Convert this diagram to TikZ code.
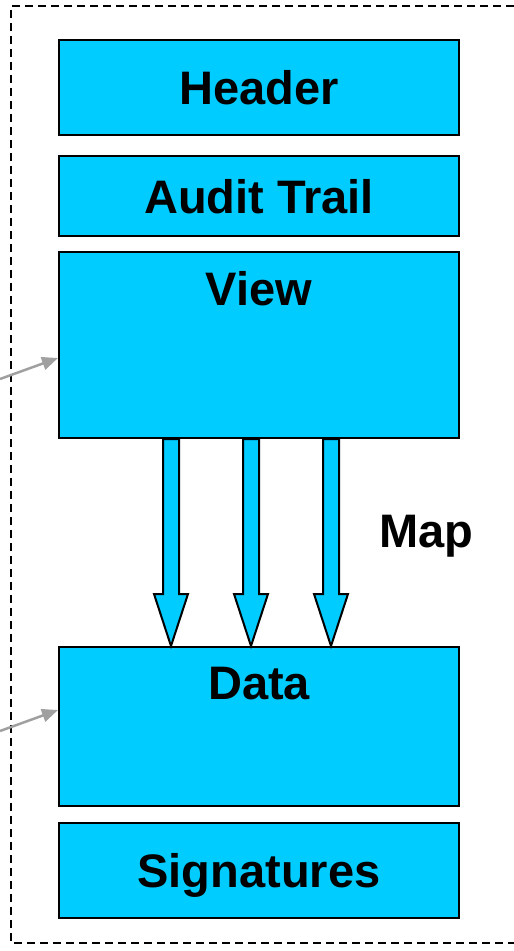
\documentclass[tikz,border=0pt]{standalone}
\usepackage{fontspec}
\setmainfont{Liberation Sans}
\usetikzlibrary{%
	calc,%
	arrows.meta
}
\definecolor{sky-blue}{RGB}{0,204,255}
\definecolor{feed-gray}{RGB}{160,160,160}

\begin{document}
\begin{tikzpicture}[x=1pt,y=-1pt,
	block/.style={draw=black,line width=2pt,fill=sky-blue,minimum width=400pt,
		inner sep=0pt,text depth=0pt,font=\bfseries\fontsize{47}{50}\selectfont},
	toptext/.style={anchor=center,yshift=-38pt,inner sep=0pt,
		font=\bfseries\fontsize{47}{50}\selectfont},
	maparrow/.style={draw=black,line width=2pt,fill=sky-blue,line join=miter},
	feed/.style={feed-gray,line width=2.5pt,-{Triangle[length=16pt,width=13pt]}}
	]
		\useasboundingbox (0,0) rectangle (514,951);
		
		% Dashed frame, open to the right
		\draw[dashed,dash pattern=on 8pt off 5pt,line width=1.5pt] (514,6) -- (11,6) -- (11,943) -- (514,943);
		
		% Boxes
		\node[block,minimum height=95pt] (header) at (259,87) {Header};
		\node[block,minimum height=80pt] (audit) at (259,196) {Audit Trail};
		\node[block,minimum height=186pt,label={[toptext]north:View}] (view) at (259,345) {};
		\node[block,minimum height=159pt,label={[toptext]north:Data}] (data) at (259,726.5) {};
		\node[block,minimum height=95pt] (sigs) at (259,870) {Signatures};
		
		% Map arrows from view down to data
		\foreach \x in {171,251,331} {
			\coordinate (s) at (\x,0 |- view.south);
			\coordinate (t) at (\x,0 |- data.north);
			\filldraw[maparrow] ($(s)+(-8,0)$) -- ($(t)+(-8,-52)$) -- ($(t)+(-17,-52)$) -- (t)
				-- ($(t)+(17,-52)$) -- ($(t)+(8,-52)$) -- ($(s)+(8,0)$) -- cycle;
		}
		\node[font=\bfseries\fontsize{47}{50}\selectfont] (map) at (426,536) {Map};
		
		% Incoming links from the left
		\coordinate (inview) at (0,379);
		\coordinate (indata) at (0,731);
		\draw[feed] (inview) -- ($(view.north west)+(0,107)$);
		\draw[feed] (indata) -- ($(data.north west)+(0,64)$);
	\end{tikzpicture}
\end{document}
